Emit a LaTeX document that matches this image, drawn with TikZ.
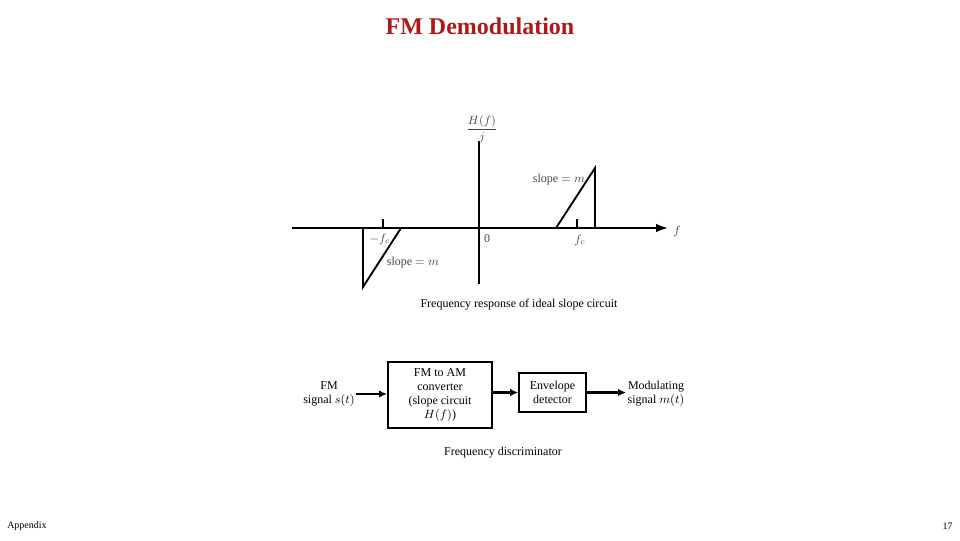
\documentclass[tikz,border=0pt]{standalone}
\usepackage{amsmath}
\usepackage{fontspec}
\setmainfont{Liberation Serif}
\usetikzlibrary{arrows.meta,positioning}
\definecolor{titlered}{RGB}{176,24,24}
\definecolor{lblgray}{RGB}{70,70,70}

\begin{document}
\begin{tikzpicture}[x=0.75pt, y=-0.75pt,
  font=\fontsize{9}{10.5}\selectfont,
  axis/.style={line width=1.5pt, -{Latex[length=9pt,width=6.5pt]}},
  curve/.style={line width=1.4pt},
  lb/.style={text=lblgray, inner sep=1pt},
  blk/.style={draw, line width=1.4pt, align=center, inner sep=1pt},
  ar/.style={line width=1.6pt, -{Latex[length=6pt,width=5.5pt]}}]

\useasboundingbox (0,0) rectangle (960,540);

% --- title and footer
\node[text=titlered, font=\fontsize{18}{20}\selectfont\bfseries] (title) at (480,26) {FM Demodulation};
\node[font=\fontsize{7.5}{9}\selectfont, anchor=west, inner sep=0pt] (appx) at (7,526) {Appendix};
\node[font=\fontsize{7.5}{9}\selectfont, anchor=east, inner sep=0pt] (page) at (953,526) {17};

% --- frequency response of the slope circuit
\coordinate (xlo) at (292,228); \coordinate (xhi) at (668,228);
\coordinate (ytop) at (479,141); \coordinate (ybot) at (479,284);
\draw[axis] (xlo) -- (xhi);
\draw[line width=1.5pt] (ytop) -- (ybot);
\draw[line width=1pt] (383,219) -- (383,228) (577,219) -- (577,228);
\draw[curve] (363,228) -- (363,287) -- (401,228);
\draw[curve] (556,228) -- (595,168) -- (595,228);

\node[lb] (hlab) at (482,129) {$\dfrac{H(f)}{j}$};
\node[lb] (flab) at (677,231) {$f$};
\node[lb] (mfc) at (380,239) {$-f_c$};
\node[lb] (zero) at (487,239) {0};
\node[lb] (pfc) at (580,240) {$f_c$};
\node[lb] (slr) at (559,180) {slope $= m$};
\node[lb] (sll) at (413,263) {slope $= m$};
\node (cap1) at (519,305) {Frequency response of ideal slope circuit};

% --- frequency discriminator
\node[blk, minimum width=78pt, minimum height=49.5pt] (conv) at (440,395)
  {FM to AM\\converter\\(slope circuit\\$H(f)$)};
\node[blk, minimum width=50pt, minimum height=29pt] (env) at (552.5,392.5)
  {Envelope\\detector};
\node[align=center, inner sep=1pt] (fmin) at (329,394) {FM\\signal $s(t)$};
\node[align=center, inner sep=1pt] (mout) at (656,394) {Modulating\\signal $m(t)$};
\node (cap2) at (503,453) {Frequency discriminator};

\draw[ar] (fmin) -- (conv.west |- fmin);
\draw[ar] (conv.east |- env) -- (env);
\draw[ar] (env) -- (mout.west |- env);
\end{tikzpicture}
\end{document}
